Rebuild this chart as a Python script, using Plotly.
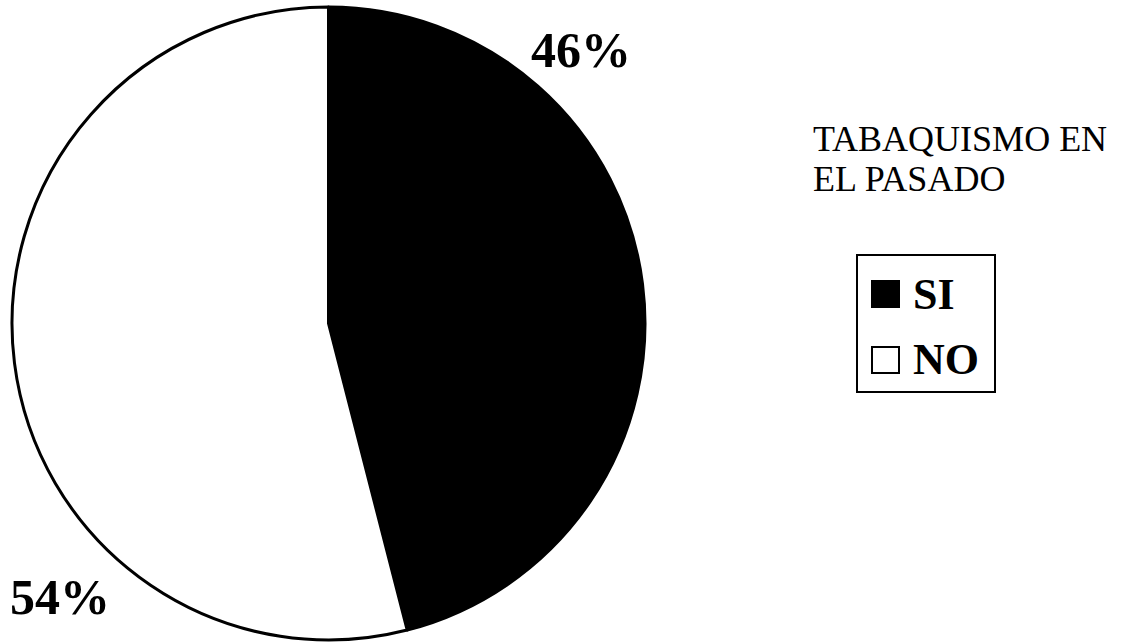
import plotly.graph_objects as go

labels = ["SI", "NO"]
values = [46, 54]
colors = ["#000000", "#ffffff"]
legend_title_lines = ["TABAQUISMO EN", "EL PASADO"]

W, H = 1138, 644

def px(x):
    return x / W

def py(y):
    return 1 - y / H

fig = go.Figure()
fig.add_trace(go.Pie(
    labels=labels, values=values, sort=False, direction="clockwise", rotation=0,
    marker=dict(colors=colors, line=dict(color="black", width=3)),
    textinfo="none", hoverinfo="skip", showlegend=False,
    domain=dict(x=[px(12), px(645)], y=[py(640), py(7)]),
))

total = sum(values)
pct = [f"{round(v * 100 / total)}%" for v in values]
serif = "Liberation Serif, Times New Roman, serif"
# percentage labels
label_pos = [(581, 50), (60, 597)]
for t, (x, y) in zip(pct, label_pos):
    fig.add_annotation(x=px(x), y=py(y), xref="paper", yref="paper", text=f"<b>{t}</b>",
                       showarrow=False, xanchor="center", yanchor="middle",
                       font=dict(family=serif, size=50, color="black"))

# legend title (two lines)
for line, yc in zip(legend_title_lines, [139, 179]):
    fig.add_annotation(x=px(811), y=py(yc), xref="paper", yref="paper", text=line,
                       showarrow=False, xanchor="left", yanchor="middle", align="left",
                       font=dict(family=serif, size=36, color="black"))

# legend box
fig.add_shape(type="rect", xref="paper", yref="paper", x0=px(857), x1=px(995), y0=py(392), y1=py(255),
              line=dict(color="black", width=2), fillcolor="white")
item_y = [294, 360]
for lab, col, yc in zip(labels, colors, item_y):
    fig.add_shape(type="rect", xref="paper", yref="paper", x0=px(872), x1=px(899),
                  y0=py(yc + 13), y1=py(yc - 13), line=dict(color="black", width=2), fillcolor=col)
    fig.add_annotation(x=px(911), y=py(yc), xref="paper", yref="paper", text=f"<b>{lab}</b>",
                       showarrow=False, xanchor="left", yanchor="middle",
                       font=dict(family=serif, size=44, color="black"))

fig.update_layout(width=W, height=H, margin=dict(l=0, r=0, t=0, b=0),
                  paper_bgcolor="white", plot_bgcolor="white", showlegend=False)
fig.write_html("out.html")
